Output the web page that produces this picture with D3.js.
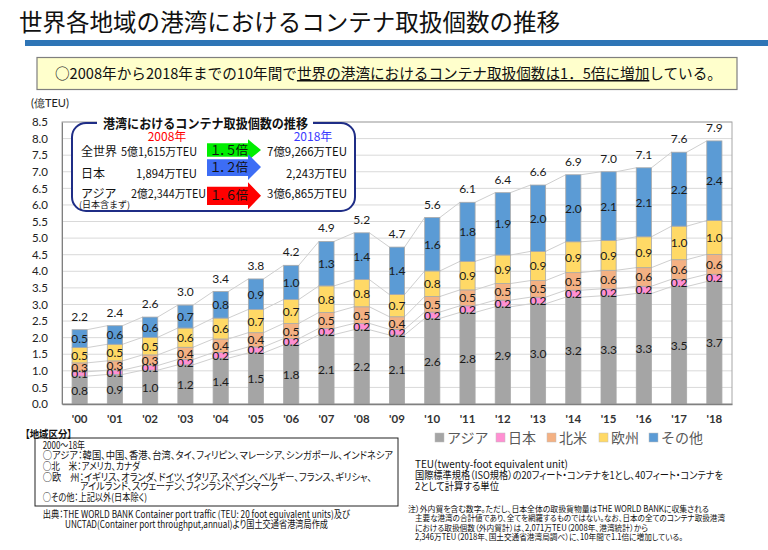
<!DOCTYPE html>
<html><head><meta charset="utf-8">
<script src="https://cdn.jsdelivr.net/npm/d3@7/dist/d3.min.js"></script>
<style>
html,body{margin:0;padding:0;background:#fff;}
svg{display:block;}
.jp{font-family:"Noto Sans CJK JP","Noto Sans",sans-serif;}
.pj{font-family:"Noto Sans CJK JP","Noto Sans",sans-serif;font-feature-settings:"palt";}
.num{font-family:Lato,"Liberation Sans",sans-serif;}
</style></head>
<body>
<svg id="c" width="768" height="550"></svg>
<script>
const years = ["'00","'01","'02","'03","'04","'05","'06","'07","'08","'09","'10","'11","'12","'13","'14","'15","'16","'17","'18"];
const asia   = [0.84,0.89,1.02,1.18,1.38,1.54,1.78,2.09,2.24,2.08,2.58,2.76,2.93,3.02,3.22,3.26,3.33,3.54,3.69];
const japan  = [0.13,0.13,0.14,0.16,0.17,0.18,0.19,0.19,0.19,0.17,0.19,0.20,0.20,0.20,0.21,0.21,0.22,0.22,0.22];
const northAmerica = [0.27,0.28,0.32,0.37,0.41,0.43,0.46,0.48,0.50,0.38,0.47,0.48,0.50,0.50,0.53,0.56,0.56,0.59,0.60];
const europe = [0.46,0.50,0.53,0.58,0.63,0.70,0.72,0.80,0.82,0.67,0.77,0.86,0.86,0.88,0.93,0.90,0.93,1.01,1.02];
const other  = [0.54,0.56,0.61,0.69,0.80,0.92,1.03,1.34,1.41,1.43,1.61,1.78,1.88,2.00,2.02,2.07,2.08,2.23,2.40];
const seriesNames = ["アジア","日本","北米","欧州","その他"];
const seriesColors = ["#a5a5a5","#ff8fd2","#f4b183","#ffd966","#5b9bd5"];
const yTicks = [0,0.5,1,1.5,2,2.5,3,3.5,4,4.5,5,5.5,6,6.5,7,7.5,8,8.5];

// inset table
const insetRows = ["全世界","日本","アジア"];
const insetFrom = ["5億1,615万TEU","1,894万TEU","2億2,344万TEU"];
const insetTo = ["7億9,266万TEU","2,243万TEU","3億6,865万TEU"];
const insetRatio = ["１．５倍","１．２倍","１．６倍"];
const insetColors = ["#00ee00","#3d6df5","#ff0000"];

const svg = d3.select("#c");

// stretch/compress text to an exact width; shrink font only if it would run off the page
function fit(sel, target){
  const node = sel.node();
  const fs = +sel.attr("font-size");
  const x0 = +sel.attr("x");
  const w = node.getComputedTextLength();
  const room = 766 - x0;
  if (w > room) sel.attr("font-size", fs*room/w);
  sel.attr("textLength", target).attr("lengthAdjust","spacingAndGlyphs");
  return sel;
}

// ---- Title ----
fit(svg.append("text").attr("class","jp").attr("x",19).attr("y",31)
  .attr("font-size",23.5).attr("fill","#111")
  .text("世界各地域の港湾におけるコンテナ取扱個数の推移"), 541);
svg.append("rect").attr("x",25).attr("y",40).attr("width",743).attr("height",6).attr("fill","#2e75b6");

// ---- Yellow summary box ----
svg.append("rect").attr("x",37).attr("y",57.5).attr("width",700).attr("height",32)
  .attr("fill","#ffffcc").attr("stroke","#7f7f7f").attr("stroke-width",1.2);
const st = svg.append("text").attr("class","jp").attr("x",55).attr("y",79).attr("font-size",15).attr("fill","#111");
st.append("tspan").text("○2008年から2018年までの10年間で");
st.append("tspan").attr("text-decoration","underline").text("世界の港湾におけるコンテナ取扱個数は1．5倍に増加");
st.append("tspan").text("している。");
fit(st, 667);

// ---- Chart ----
const L=62, R=732, T=122, B=404;
const x = d3.scaleBand().domain(years).range([L,R]).paddingInner(0.57).paddingOuter(0.285);
const y = d3.scaleLinear().domain([0,8.5]).range([B,T]);

const g = svg.append("g");
g.selectAll("line.grid").data(yTicks.slice(1)).join("line")
  .attr("x1",L).attr("x2",R).attr("y1",d=>y(d)).attr("y2",d=>y(d))
  .attr("stroke","#d9d9d9").attr("stroke-width",1);
g.append("rect").attr("x",L).attr("y",T).attr("width",R-L).attr("height",B-T)
  .attr("fill","none").attr("stroke","#a6a6a6").attr("stroke-width",1);

const yAxis = d3.axisLeft(y).tickValues(yTicks).tickFormat(d3.format(".1f")).tickSize(0).tickPadding(14);
const ya = svg.append("g").attr("transform",`translate(${L},0)`).call(yAxis);
ya.select(".domain").attr("stroke","#808080");
ya.selectAll("text").attr("class","num").attr("font-size",11.5).attr("fill","#222");
svg.append("text").attr("class","num").attr("x",31).attr("y",107).attr("font-size",11).attr("fill","#222").text("(億TEU)");

const xAxis = d3.axisBottom(x).tickSize(0).tickPadding(11);
const xa = svg.append("g").attr("transform",`translate(0,${B})`).call(xAxis);
xa.select(".domain").attr("stroke","#808080").attr("stroke-width",1.3);
xa.selectAll("text").attr("class","num").attr("font-size",11.5).attr("font-weight","bold").attr("fill","#333");

const rows = years.map((yr,i)=>({year:yr, s0:asia[i], s1:japan[i], s2:northAmerica[i], s3:europe[i], s4:other[i]}));
const keys = ["s0","s1","s2","s3","s4"];
const stacked = d3.stack().keys(keys)(rows);

stacked.forEach(layer=>{
  for(let i=0;i<years.length-1;i++){
    g.append("line")
      .attr("x1",x(years[i])+x.bandwidth()).attr("y1",y(layer[i][1]))
      .attr("x2",x(years[i+1])).attr("y2",y(layer[i+1][1]))
      .attr("stroke","#cfcfcf").attr("stroke-width",1);
  }
});

stacked.forEach((layer,k)=>{
  g.append("g").selectAll("rect").data(layer).join("rect")
    .attr("x",d=>x(d.data.year)).attr("width",x.bandwidth())
    .attr("y",d=>y(d[1])).attr("height",d=>y(d[0])-y(d[1]))
    .attr("fill",seriesColors[k]).attr("stroke","#a9a9a9").attr("stroke-width",0.8);
});
stacked.forEach((layer,k)=>{
  g.append("g").selectAll("text").data(layer).join("text")
    .attr("class","num").attr("text-anchor","middle")
    .attr("x",d=>x(d.data.year)+x.bandwidth()/2)
    .attr("y",d=>(y(d[0])+y(d[1]))/2+4.5)
    .attr("font-size",12).attr("fill","#1a1a1a")
    .text(d=>(d[1]-d[0]).toFixed(1));
});
const topLayer = stacked[stacked.length-1];
g.append("g").selectAll("text").data(topLayer).join("text")
  .attr("class","num").attr("text-anchor","middle")
  .attr("x",d=>x(d.data.year)+x.bandwidth()/2)
  .attr("y",d=>y(d[1])-9)
  .attr("font-size",12).attr("fill","#1a1a1a")
  .text(d=>d[1].toFixed(1));

const legX = [435,496,547,599,649];
const lg = svg.append("g");
seriesNames.forEach((n,i)=>{
  lg.append("rect").attr("x",legX[i]).attr("y",433).attr("width",9).attr("height",9)
    .attr("fill",seriesColors[i]).attr("stroke","#bfbfbf").attr("stroke-width",0.5);
  lg.append("text").attr("class","jp").attr("x",legX[i]+12).attr("y",443).attr("font-size",14)
    .attr("fill","#595959").text(n);
});

// ---- Inset ----
const ins = svg.append("g");
ins.append("rect").attr("x",72).attr("y",123).attr("width",283).attr("height",88).attr("rx",14)
  .attr("fill","#fff").attr("stroke","#1f2d86").attr("stroke-width",2);
ins.append("rect").attr("x",97).attr("y",114).attr("width",216).attr("height",16).attr("fill","#fff");
fit(ins.append("text").attr("class","jp").attr("x",103).attr("y",128).attr("font-size",13).attr("font-weight","bold")
  .attr("fill","#111").text("港湾におけるコンテナ取扱個数の推移"), 205);
ins.append("text").attr("class","jp").attr("x",167).attr("y",140.5).attr("text-anchor","middle")
  .attr("font-size",12).attr("fill","#ff0000").text("2008年");
ins.append("text").attr("class","jp").attr("x",313).attr("y",140.5).attr("text-anchor","middle")
  .attr("font-size",12).attr("fill","#3b3bff").text("2018年");
const bodyH = [[143.3,156.7],[159.3,176],[186.7,205]];
const headH = [[139.3,160.7],[154,180],[182.3,209.3]];
const textY = [151,173,193];
const fromEnd = [197,197,206];
const fromLen = [76,61,75];
insetRows.forEach((r,i)=>{
  ins.append("text").attr("class","jp").attr("x",81).attr("y",textY[i]+4.5).attr("font-size",12)
    .attr("fill","#111").text(r);
  fit(ins.append("text").attr("class","jp").attr("x",fromEnd[i]-fromLen[i]).attr("y",textY[i]+4.5).attr("font-size",11.5)
    .attr("fill","#111").text(insetFrom[i]), fromLen[i]);
  const toLen = i===1?61:80;
  fit(ins.append("text").attr("class","jp").attr("x",347-toLen).attr("y",textY[i]+4.5).attr("font-size",11.5)
    .attr("fill","#111").text(insetTo[i]), toLen);
  const b = bodyH[i], h = headH[i], cy=(h[0]+h[1])/2;
  const p = d3.path();
  p.moveTo(207,b[0]); p.lineTo(248,b[0]); p.lineTo(248,h[0]); p.lineTo(261,cy);
  p.lineTo(248,h[1]); p.lineTo(248,b[1]); p.lineTo(207,b[1]); p.closePath();
  ins.append("path").attr("d",p.toString()).attr("fill",insetColors[i]);
  const rt = ins.append("text").attr("class","pj").attr("x",211).attr("y",(b[0]+b[1])/2+4.5)
    .attr("font-size",12.5).attr("fill","#111").text(insetRatio[i]);
  fit(rt, 37);
});
ins.append("text").attr("class","jp").attr("x",79).attr("y",208).attr("font-size",9).attr("fill","#111").text("(日本含まず)");

// ---- Notes ----
function note(t,x0,x1,yc,fs,opts){
  const e = svg.append("text").attr("class","pj").attr("x",x0).attr("y",yc+fs*0.38).attr("font-size",fs).attr("fill","#111")
    .text(t);
  if(opts&&opts.bold) e.attr("font-weight","bold");
  fit(e, x1-x0);
  return e;
}
note("【地域区分】",25,72,434,10.5,{bold:true});
svg.append("rect").attr("x",35).attr("y",438).attr("width",363).attr("height",68).attr("fill","none").attr("stroke","#222").attr("stroke-width",1);
note("2000～18年",42.7,85,445,10);
note("○アジア：韓国、中国、香港、台湾、タイ、フィリピン、マレーシア、シンガポール、インドネシア",42.7,393,455.5,10);
note("○北　米：アメリカ、カナダ",42.7,140,466,10);
note("○欧　州：イギリス、オランダ、ドイツ、イタリア、スペイン、ベルギー、フランス、ギリシャ、",42.7,372,477,10);
note("アイルランド、スウェーデン、フィンランド、デンマーク",80,278,486.5,10);
note("○その他：上記以外(日本除く)",42.7,147,497,10);
note("出典：THE WORLD BANK Container port traffic (TEU: 20 foot equivalent units)及び",42.7,350,514,10);
note("UNCTAD(Container port throughput,annual)より国土交通省港湾局作成",65,328,524,10);

note("TEU(twenty-foot equivalent unit)",415,568,464,10.5);
note("国際標準規格（ISO規格）の20フィート・コンテナを1とし、40フィート・コンテナを",415,723,475,10.5);
note("2として計算する単位",415,499,486,10.5);
note("注）外内貿を含む数字。ただし、日本全体の取扱貨物量はTHE WORLD BANKに収集される",408,709,509,8.5);
note("主要な港湾の合計値であり、全てを網羅するものではない。なお、日本の全てのコンテナ取扱港湾",415,725,518,8.5);
note("における取扱個数（外内貿計）は、2,071万TEU（2008年、港湾統計）から",415,648,527.5,8.5);
note("2,346万TEU（2018年、国土交通省港湾局調べ）に、10年間で1.1倍に増加している。",415,683,537,8.5);
</script>
</body></html>
